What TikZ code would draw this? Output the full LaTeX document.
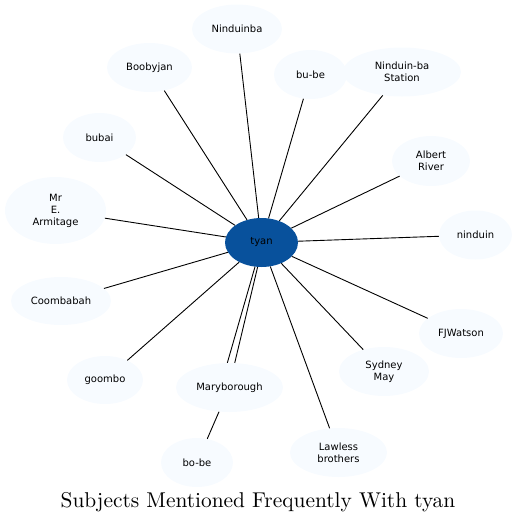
\documentclass[tikz,border=0pt]{standalone}
\usepackage{fontspec}
\usepackage{xcolor}
\usepackage{tikz}
\usetikzlibrary{shapes.geometric}
\newfontfamily\subjfont{DejaVu Sans}
\definecolor{blueone}{HTML}{F7FBFF}
\definecolor{blueeight}{HTML}{08519C}

\begin{document}
\begin{tikzpicture}[x=1pt, y=-1pt,
    subject/.style={ellipse, fill=blueone, inner sep=0pt, minimum height=49pt,
        align=center, font=\subjfont\fontsize{10}{12}\selectfont},
    hub/.style={subject, fill=blueeight},
    link/.style={draw=black, line width=0.9pt}
]
    \useasboundingbox (0,0) rectangle (516,523);
    \node[hub, minimum width=73pt] (tyan) at (261.5, 242.5) {tyan};
    \node[subject, minimum width=90pt] (ninduinba) at (237, 29) {Ninduinba};
    \node[subject, minimum width=85pt] (boobyjan) at (149.5, 67.5) {Boobyjan};
    \node[subject, minimum width=73pt] (bube) at (310.5, 74.5) {bu-be};
    \node[subject, minimum width=118pt] (station) at (402, 72) {Ninduin-ba\\Station};
    \node[subject, minimum width=73pt] (bubai) at (99.5, 137.5) {bubai};
    \node[subject, minimum width=78pt, minimum height=50pt] (albert) at (431, 161) {Albert\\River};
    \node[subject, minimum width=101pt, minimum height=67pt] (armitage) at (55.5, 210.5) {Mr\\E.\\Armitage};
    \node[subject, minimum width=73pt] (ninduin) at (475.5, 235) {ninduin};
    \node[subject, minimum width=100pt, minimum height=48pt] (coombabah) at (61, 301) {Coombabah};
    \node[subject, minimum width=84pt] (watson) at (461, 333.5) {FJWatson};
    \node[subject, minimum width=76pt, minimum height=48pt] (goombo) at (105, 380) {goombo};
    \node[subject, minimum width=107pt] (mary) at (229.5, 387.5) {Maryborough};
    \node[subject, minimum width=90pt] (sydney) at (384, 371.5) {Sydney\\May};
    \node[subject, minimum width=72pt] (bobe) at (197, 462.5) {bo-be};
    \node[subject, minimum width=97pt] (lawless) at (338.5, 452.5) {Lawless\\brothers};
    \node[anchor=base, scale=2.14] (title) at (258, 507)
        {Subjects Mentioned Frequently With tyan};
    \foreach \other in {ninduinba, boobyjan, bube, station, bubai, albert, armitage,
        ninduin, coombabah, watson, goombo, sydney, lawless}
        \draw[link] (tyan) -- (\other);
    \draw[link] (tyan.-105) -- (mary.95);
    \draw[link] (tyan.-99) -- (mary.78);
    \draw[link] (mary) -- (bobe);
\end{tikzpicture}
\end{document}
